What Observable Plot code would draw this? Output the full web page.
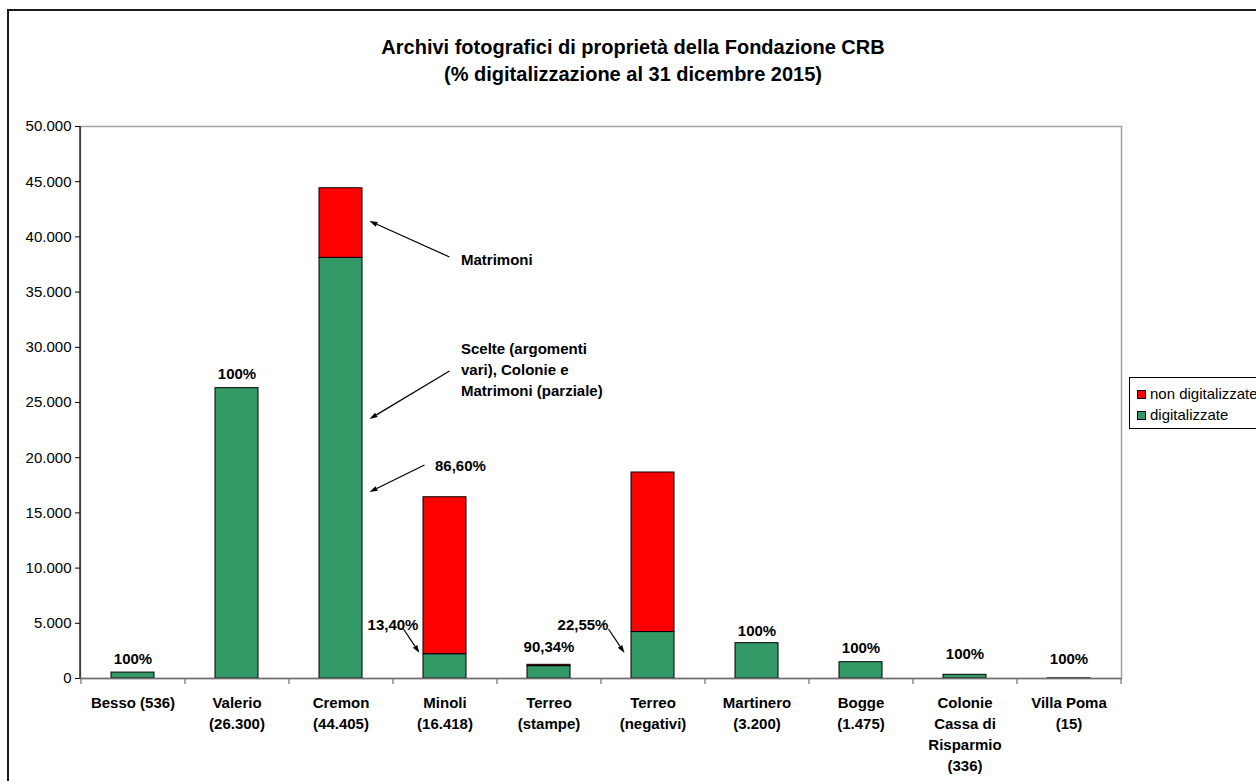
<!DOCTYPE html>
<html><head><meta charset="utf-8">
<script src="https://cdn.jsdelivr.net/npm/d3@7"></script>
<script src="https://cdn.jsdelivr.net/npm/@observablehq/plot@0.6"></script>
<style>
body{margin:0;background:#fff;overflow:hidden}
#wrap{position:relative;width:1256px;height:781px;overflow:hidden;font-family:"Liberation Sans",Arial,sans-serif;background:#fff}
#wrap svg{position:absolute;left:0;top:0}
#frame{position:absolute;left:7px;top:9px;width:1300px;height:830px;border:2px solid #1a1a1a;box-sizing:border-box;pointer-events:none}
#legend{position:absolute;left:1129px;top:377px;width:200px;height:50px;border:1px solid #000;background:#fff;font-size:15px;color:#000}
#legend .it{position:absolute;left:7px;height:18px;line-height:18px;white-space:nowrap}
#legend .sw{display:inline-block;width:7px;height:7px;border:1px solid #000;margin-right:4px;vertical-align:0px}
</style>
</head><body>
<div id="wrap"></div>
<script>
const categories = ["Besso (536)", "Valerio\n(26.300)", "Cremon\n(44.405)", "Minoli\n(16.418)", "Terreo\n(stampe)",
  "Terreo\n(negativi)", "Martinero\n(3.200)", "Bogge\n(1.475)", "Colonie\nCassa di\nRisparmio\n(336)", "Villa Poma\n(15)"];
const totals    = [536, 26300, 44405, 16418, 1240, 18660, 3200, 1475, 336, 15];
const digitized = [536, 26300, 38100, 2200, 1120, 4208, 3200, 1475, 336, 15];
const seriesNames = ["non digitalizzate", "digitalizzate"];
const seriesColors = ["#ff0000", "#339966"];
const yTicks = [0, 5000, 10000, 15000, 20000, 25000, 30000, 35000, 40000, 45000, 50000];
const titleText = "Archivi fotografici di proprietà della Fondazione CRB\n(% digitalizzazione al 31 dicembre 2015)";

// percentage labels above bars (label anchor in data units)
const pctCats   = [0, 1, 4, 6, 7, 8, 9];
const pctTexts  = ["100%", "100%", "90,34%", "100%", "100%", "100%", "100%"];
const pctY      = [1721, 27536, 2808, 4257, 2717, 2174, 1721];

// callout notes
const notes = [
  {cat: 2, text: "Matrimoni", y: 38043, dx: 120, anchor: "start"},
  {cat: 2, text: "Scelte (argomenti\nvari), Colonie e\nMatrimoni (parziale)", y: 28080, dx: 120, anchor: "start"},
  {cat: 2, text: "86,60%", y: 19384, dx: 94, anchor: "start"},
  {cat: 3, text: "13,40%", y: 4982, dx: -52, anchor: "middle"},
  {cat: 5, text: "22,55%", y: 4982, dx: -70, anchor: "middle"}
];
// arrows: tail (ox1,y1) -> tip (ox2,y2); ox in px from category centre
const arrows = [
  {cat: 2, ox1: 109, y1: 38134, ox2: 29, y2: 41395},
  {cat: 2, ox1: 109, y1: 27808, ox2: 29, y2: 23460},
  {cat: 2, ox1: 84, y1: 19293, ox2: 29, y2: 16848},
  {cat: 3, ox1: -41, y1: 4438, ox2: -25, y2: 2264},
  {cat: 5, ox1: -44, y1: 4438, ox2: -28, y2: 2264}
];

const rows = [];
categories.forEach((c, i) => {
  rows.push({cat: c, series: "digitalizzate", value: digitized[i]});
  rows.push({cat: c, series: "non digitalizzate", value: totals[i] - digitized[i]});
});
const pctData = pctCats.map((ci, k) => ({cat: categories[ci], text: pctTexts[k], y: pctY[k]}));

const fmt = d => d3.format(",")(d).replace(/,/g, ".");
const FONT = '"Liberation Sans", Arial, sans-serif';
const W = 1256, H = 781, ML = 80, MR = 135, MT = 126, MB = 103;
const step = (W - ML - MR) / categories.length;

function leftAxisLine(index, scales, values, dim) {
  const g = d3.create("svg:g");
  g.append("line").attr("x1", dim.marginLeft).attr("x2", dim.marginLeft)
    .attr("y1", dim.marginTop).attr("y2", dim.height - dim.marginBottom)
    .attr("stroke", "#000").attr("stroke-width", 1.2);
  return g.node();
}

function arrowMark(index, scales) {
  const g = d3.create("svg:g");
  for (const a of arrows) {
    const c = scales.x(categories[a.cat]) + scales.x.bandwidth() / 2;
    const x1 = c + a.ox1, y1 = scales.y(a.y1), x2 = c + a.ox2, y2 = scales.y(a.y2);
    const ang = Math.atan2(y2 - y1, x2 - x1);
    const L = 8, Wd = 2.6;
    const bx = x2 - L * Math.cos(ang), by = y2 - L * Math.sin(ang);
    g.append("line").attr("x1", x1).attr("y1", y1).attr("x2", bx).attr("y2", by)
      .attr("stroke", "#000").attr("stroke-width", 1.2);
    const px = -Math.sin(ang) * Wd, py = Math.cos(ang) * Wd;
    g.append("polygon").attr("points", `${x2},${y2} ${bx + px},${by + py} ${bx - px},${by - py}`).attr("fill", "#000");
  }
  return g.node();
}

const noteMarks = notes.map(n => Plot.text([n], {
  x: d => categories[d.cat], y: "y", text: "text", dx: n.dx, textAnchor: n.anchor,
  lineHeight: 1.4, fontWeight: "bold", fontSize: 15, fill: "#000"
}));

const chart = Plot.plot({
  width: W, height: H,
  marginLeft: ML, marginRight: MR, marginTop: MT, marginBottom: MB,
  style: {fontFamily: FONT, fontSize: "15px", color: "#000", background: "transparent", overflow: "visible"},
  x: {domain: categories, paddingInner: 0.59, paddingOuter: 0.295, axis: null},
  y: {domain: [0, 50000], ticks: yTicks, tickFormat: fmt, tickSize: 5, tickPadding: 4, label: null},
  color: {domain: seriesNames, range: seriesColors},
  marks: [
    Plot.frame({stroke: "#a0a0a0", strokeWidth: 1.5}),
    Plot.barY(rows, {x: "cat", y: "value", fill: "series", stroke: "#000", strokeWidth: 1,
      order: ["digitalizzate", "non digitalizzate"]}),
    Plot.ruleY([0], {stroke: "#6e6e6e", strokeWidth: 1.5}),
    leftAxisLine,
    Plot.ruleX(categories, {x: d => d, y1: 0, y2: 0, insetBottom: -6, dx: -step / 2, stroke: "#6e6e6e", strokeWidth: 1.2}),
    Plot.ruleX([categories[categories.length - 1]], {x: d => d, y1: 0, y2: 0, insetBottom: -6, dx: step / 2, stroke: "#6e6e6e", strokeWidth: 1.2}),
    Plot.text(categories, {x: d => d, frameAnchor: "bottom", lineAnchor: "top", dy: 14.5, lineHeight: 1.4,
      fontWeight: "bold", fontSize: 15, fill: "#000"}),
    Plot.text(pctData, {x: "cat", y: "y", text: "text", fontWeight: "bold", fontSize: 15, fill: "#000"}),
    ...noteMarks,
    arrowMark,
    Plot.text([titleText], {frameAnchor: "top", lineAnchor: "middle", dx: 32, dy: -67.5, lineHeight: 1.35,
      fontWeight: "bold", fontSize: 20, fill: "#000"})
  ]
});

const wrap = document.getElementById("wrap");
wrap.appendChild(chart);
const frame = document.createElement("div"); frame.id = "frame"; wrap.appendChild(frame);
const legend = document.createElement("div"); legend.id = "legend";
const legendTops = [7, 28];
seriesNames.forEach((s, i) => {
  const it = document.createElement("div"); it.className = "it"; it.style.top = legendTops[i] + "px";
  const sw = document.createElement("span"); sw.className = "sw"; sw.style.background = seriesColors[i];
  it.appendChild(sw); it.appendChild(document.createTextNode(s));
  legend.appendChild(it);
});
wrap.appendChild(legend);
</script>
</body></html>
